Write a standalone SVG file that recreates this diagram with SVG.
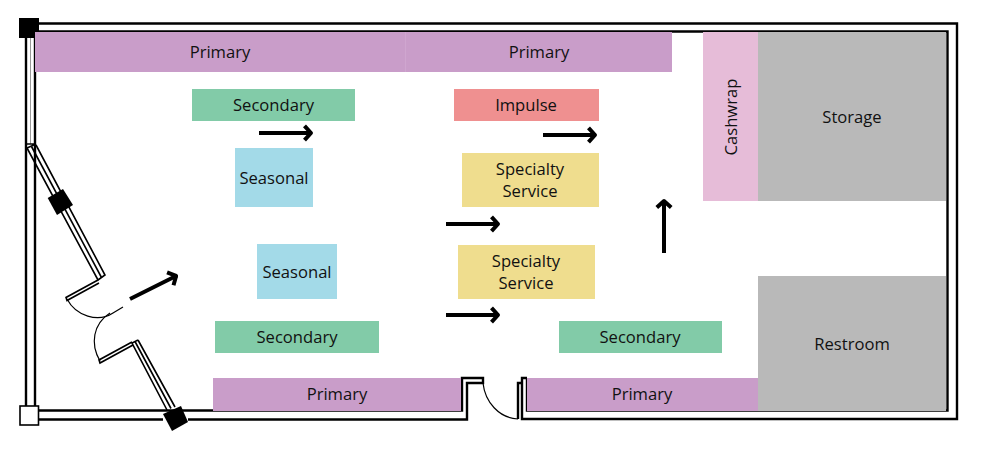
<svg xmlns="http://www.w3.org/2000/svg" width="984" height="456" viewBox="0 0 984 456">
<defs>
<marker id="head" viewBox="0 0 16 16" refX="13" refY="8" markerWidth="16" markerHeight="16" markerUnits="userSpaceOnUse" orient="auto" overflow="visible">
<path d="M5.500 0.800 L12 8 L5.500 15.200" fill="none" stroke="#000" stroke-width="4" stroke-linejoin="round"/>
</marker>
</defs>
<style>
text{font-family:"Open Sans","Noto Sans",sans-serif;font-size:16.600px;fill:#111;text-anchor:middle;dominant-baseline:central}
.w{fill:none;stroke:#000;stroke-width:2.400}
.t{fill:none;stroke:#000;stroke-width:1.600}
.g{fill:none;stroke:#999;stroke-width:1}
.h{fill:none;stroke:#000;stroke-width:1.200}
.pri{fill:#C99DC9}.sec{fill:#82CBA8}.sea{fill:#A3DAE8}.imp{fill:#EF9090}.spe{fill:#EFDD8E}.cas{fill:#E6BCD8}.gry{fill:#B9B9B9}
.a{fill:none;stroke:#000;stroke-width:4;marker-end:url(#head)}
</style>
<rect width="984" height="456" fill="#fff"/>
<g id="walls">
<path class="w" d="M39 23.500H957V419H522V378H527M39 31.500H947.500V410.500H527V378M26 38V406M35 38V406M39 410.500H462V378H483V383H467V419.500H188M39 419.500H163"/>
<path class="w" d="M518 419V383H522"/>
<path class="g" d="M30.500 38V144"/>
<path class="t" d="M27 144H36M27 148L36 144"/>
<path class="t" d="M36 145L105 275L98 280L27 148"/>
<path class="t" d="M31.500 146.500L101.500 277.500"/>
<path class="t" d="M138 340L132 343L167 410M138 340L175 407M135 341.500L171 408.500"/>
<path class="t" d="M98 280L66 297.500L67 300.500L99 283"/>
<path class="t" d="M132 342L99 360L100 363L133 345"/>
<path class="h" d="M67 299C76 316 98 323 113 313L123 307"/>
<path class="h" d="M100 361C90 344 93 324 110 313"/>
<path class="h" d="M483 383C485 402 499 418 518 419"/>
</g>
<g id="post-nw"><rect x="19" y="18" width="20" height="20" fill="#000"/></g>
<g id="post-sw"><rect x="20" y="406" width="18.500" height="19" fill="#fff" stroke="#000" stroke-width="1.600"/></g>
<g id="post-window-1"><path d="M47.700 198L63 189L73 205L57 215Z" fill="#000"/></g>
<g id="post-window-2"><path d="M163 414L181 406L188 422L172 431Z" fill="#000"/></g>
<g id="primary-1"><rect class="pri" x="35" y="32" width="371" height="40"/><text x="220" y="51">Primary</text></g>
<g id="primary-2"><rect class="pri" x="406" y="32" width="266" height="40"/><rect x="405" y="32" width="1" height="40" fill="#CFA6CF"/><text x="539" y="51">Primary</text></g>
<g id="primary-3"><rect class="pri" x="213" y="378" width="248" height="33"/><text x="337" y="393">Primary</text></g>
<g id="primary-4"><rect class="pri" x="527" y="378" width="231" height="33"/><text x="642" y="393">Primary</text></g>
<g id="secondary-1"><rect class="sec" x="192" y="89" width="163" height="32"/><text x="273.500" y="104">Secondary</text></g>
<g id="secondary-2"><rect class="sec" x="215" y="321" width="164" height="32"/><text x="297" y="336">Secondary</text></g>
<g id="secondary-3"><rect class="sec" x="559" y="321" width="163" height="32"/><text x="640" y="336">Secondary</text></g>
<g id="seasonal-1"><rect class="sea" x="235" y="148" width="78" height="59"/><text x="274" y="177">Seasonal</text></g>
<g id="seasonal-2"><rect class="sea" x="257" y="244" width="80" height="55"/><text x="297" y="271">Seasonal</text></g>
<g id="impulse"><rect class="imp" x="454" y="89" width="145" height="32"/><text x="526" y="104">Impulse</text></g>
<g id="specialty-1"><rect class="spe" x="462" y="153" width="137" height="54"/><text x="530" y="168">Specialty</text><text x="530" y="190">Service</text></g>
<g id="specialty-2"><rect class="spe" x="458" y="245" width="137" height="54"/><text x="526" y="260">Specialty</text><text x="526" y="282">Service</text></g>
<g id="cashwrap"><rect class="cas" x="703" y="32" width="55" height="169"/><text transform="translate(730 117) rotate(-90)">Cashwrap</text></g>
<g id="storage"><rect class="gry" x="758" y="32" width="188" height="169"/><text x="852" y="116">Storage</text></g>
<g id="restroom"><rect class="gry" x="758" y="276" width="188" height="135"/><text x="852" y="343">Restroom</text></g>
<g id="connectors">
<path class="a" d="M259 133H312"/>
<path class="a" d="M543 135H596"/>
<path class="a" d="M446 224H499"/>
<path class="a" d="M446 315H499"/>
<path class="a" d="M664 253V200"/>
<path class="a" d="M130 299L177 275.500"/>
</g>
</svg>
